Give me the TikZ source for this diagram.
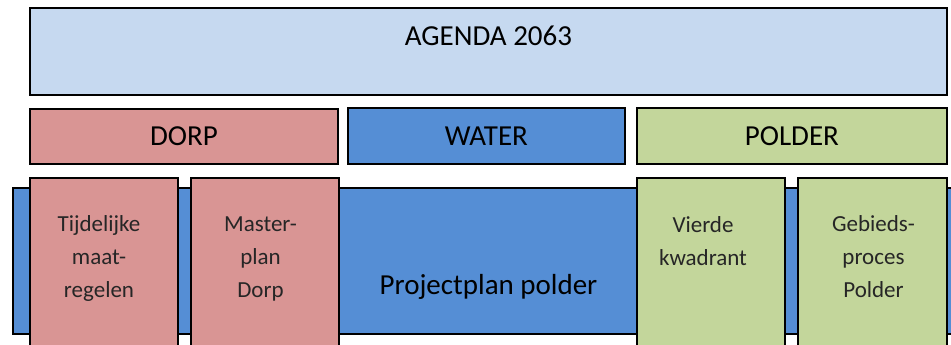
\documentclass[tikz,border=0pt]{standalone}
\usepackage{fontspec}
\setmainfont{Carlito}
\usetikzlibrary{positioning}
\definecolor{agendablue}{RGB}{198,217,240}
\definecolor{dorppink}{RGB}{217,149,148}
\definecolor{waterblue}{RGB}{85,142,213}
\definecolor{poldergreen}{RGB}{195,214,155}

\begin{document}
\begin{tikzpicture}[x=1pt,y=-1pt,line width=1.8pt,
  box/.style={draw=black,inner sep=0pt,anchor=north west},
  bigtxt/.style={font=\fontsize{29}{35}\selectfont},
  smalltxt/.style={font=\fontsize{23}{33}\selectfont,text=black!85,align=center,anchor=base,inner sep=0pt}]
\useasboundingbox (0,0) rectangle (951,345);
\clip (0,0) rectangle (951,345);
% top row
\node[box,fill=agendablue,minimum width=917pt,minimum height=87pt] (agenda) at (29,7) {};
\node[bigtxt,anchor=base] (agendatxt) at ([yshift=-39pt]agenda.north) {AGENDA 2063};
% themes
\node[box,bigtxt,fill=dorppink,minimum width=308pt,minimum height=55pt] (dorp) at (29,108) {DORP};
\node[box,bigtxt,fill=waterblue,minimum width=277pt,minimum height=56pt] (water) at (347,107) {WATER};
\node[box,bigtxt,fill=poldergreen,minimum width=310pt,minimum height=56pt] (polder) at (636,107) {POLDER};
% band
\node[box,fill=waterblue,minimum width=960pt,minimum height=146pt] (band) at (12,187) {};
\node[bigtxt,anchor=base] (bandtxt) at (488.5,294) {Projectplan polder};
% projects (base = last line)
\node[box,fill=dorppink,minimum width=148pt,minimum height=190pt] (tijd) at (29,177) {};
\node[box,fill=dorppink,minimum width=148pt,minimum height=190pt] (master) at (190,177) {};
\node[box,fill=poldergreen,minimum width=148pt,minimum height=190pt] (vierde) at (636,177) {};
\node[box,fill=poldergreen,minimum width=149pt,minimum height=190pt] (gebied) at (797,177) {};
\node[smalltxt] (tijdtxt) at (99,297.7) {Tijdelijke\\maat-\\regelen};
\node[smalltxt] (mastertxt) at (260.5,297.7) {Master-\\plan\\Dorp};
\node[smalltxt] (vierdetxt) at (703,265) {Vierde\\kwadrant};
\node[smalltxt] (gebiedtxt) at (873.5,297.7) {Gebieds-\\proces\\Polder};
\end{tikzpicture}
\end{document}
